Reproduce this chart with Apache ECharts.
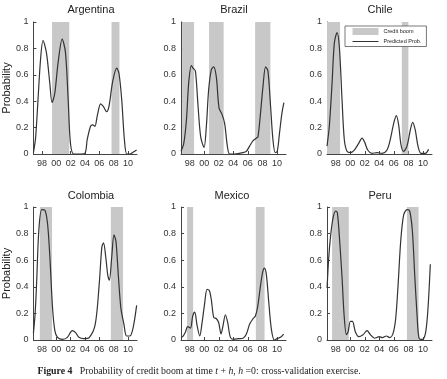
<!DOCTYPE html>
<html>
<head>
<meta charset="utf-8">
<script src="https://cdn.jsdelivr.net/npm/echarts@6/dist/echarts.min.js"></script>
<style>
html,body{margin:0;padding:0;background:#fff;}
#c{width:447px;height:379px;}
</style>
</head>
<body>
<div id="c"></div>
<script>
// ---- data ----
const countries = ['Argentina', 'Brazil', 'Chile', 'Colombia', 'Mexico', 'Peru'];
const tickYears = [1998, 2000, 2002, 2004, 2006, 2008, 2010];
const yTicks = [0, 0.2, 0.4, 0.6, 0.8, 1];

const argentina = [[1996.8,0.01],[1997.1,0.12],[1997.44,0.41],[1997.8,0.72],[1998.14,0.86],[1998.61,0.77],[1999.08,0.54],[1999.4,0.39],[1999.78,0.46],[2000.24,0.69],[2000.81,0.87],[2001.27,0.77],[2001.65,0.41],[2001.97,0.08],[2002.44,0],[2003.2,0],[2003.98,0.005],[2004.31,0.11],[2004.77,0.21],[2005.05,0.22],[2005.38,0.21],[2005.71,0.29],[2006.18,0.38],[2006.55,0.36],[2007.02,0.32],[2007.34,0.36],[2007.86,0.55],[2008.42,0.65],[2008.74,0.61],[2009.12,0.41],[2009.49,0.11],[2009.82,0],[2010.28,0],[2010.75,0.015],[2011.2,0.03]];
const brazil = [[1996.8,0.02],[1997.18,0.08],[1997.55,0.26],[1997.86,0.54],[1998.23,0.67],[1998.46,0.65],[1998.78,0.63],[1999.15,0.36],[1999.51,0.13],[1999.97,0.05],[2000.29,0.21],[2000.61,0.49],[2000.98,0.64],[2001.3,0.66],[2001.67,0.58],[2002.03,0.35],[2002.45,0.30],[2002.81,0.23],[2003.18,0.06],[2003.49,0],[2004.18,0],[2005.33,0.01],[2005.79,0.02],[2006.24,0.06],[2006.7,0.10],[2007.16,0.12],[2007.39,0.13],[2007.71,0.29],[2008.08,0.51],[2008.44,0.66],[2008.76,0.63],[2009.13,0.36],[2009.45,0.11],[2009.77,0.01],[2010.05,0.02],[2010.36,0.16],[2010.69,0.31],[2010.96,0.39]];
const chile = [[1996.8,0.06],[1997.12,0.21],[1997.49,0.53],[1997.81,0.84],[1998.18,0.92],[1998.5,0.81],[1998.87,0.41],[1999.18,0.11],[1999.55,0.02],[2000.01,0.01],[2000.56,0.03],[2001.16,0.08],[2001.62,0.12],[2001.98,0.09],[2002.4,0.03],[2002.99,0.005],[2003.68,0.01],[2004.37,0.005],[2005.06,0.03],[2005.51,0.11],[2005.97,0.23],[2006.34,0.29],[2006.66,0.22],[2006.98,0.07],[2007.34,0.02],[2007.81,0.06],[2008.26,0.18],[2008.59,0.24],[2008.95,0.18],[2009.32,0.06],[2009.73,0.005],[2010.33,0.005],[2010.79,0.035]];
const colombia = [[1996.8,0.05],[1997.04,0.2],[1997.27,0.46],[1997.55,0.82],[1997.96,0.98],[1998.41,0.975],[1998.78,0.87],[1999.1,0.62],[1999.47,0.24],[1999.79,0.07],[2000.16,0.02],[2000.85,0.005],[2001.54,0.02],[2002.22,0.07],[2002.68,0.055],[2003.14,0.02],[2003.83,0.01],[2004.61,0.02],[2005.43,0.12],[2005.98,0.42],[2006.35,0.70],[2006.58,0.73],[2006.9,0.62],[2007.17,0.49],[2007.4,0.45],[2007.72,0.62],[2008.04,0.79],[2008.32,0.74],[2008.64,0.49],[2009.0,0.24],[2009.42,0.12],[2009.79,0.03],[2010.24,0.03],[2010.7,0.09],[2011.2,0.26]];
const mexico = [[1996.8,0.02],[1997.04,0.025],[1997.41,0.06],[1997.72,0.10],[1998.1,0.09],[1998.41,0.18],[1998.69,0.21],[1999.01,0.11],[1999.38,0.03],[1999.7,0.13],[2000.02,0.26],[2000.39,0.38],[2000.71,0.37],[2000.98,0.30],[2001.3,0.17],[2001.67,0.16],[2001.99,0.13],[2002.31,0.045],[2002.59,0.11],[2002.91,0.19],[2003.23,0.13],[2003.6,0.02],[2004.05,0.005],[2004.74,0.01],[2005.34,0.013],[2005.8,0.045],[2006.25,0.12],[2006.72,0.16],[2007.04,0.18],[2007.35,0.25],[2007.72,0.40],[2008.04,0.51],[2008.28,0.54],[2008.55,0.49],[2008.87,0.29],[2009.24,0.08],[2009.65,0],[2010.02,0.01],[2010.48,0.02],[2010.93,0.045]];
const peru = [[1996.81,0.39],[1997.04,0.62],[1997.31,0.79],[1997.64,0.92],[1998.0,0.97],[1998.23,0.955],[1998.55,0.74],[1998.88,0.46],[1999.15,0.19],[1999.47,0.04],[1999.7,0.06],[2000.02,0.14],[2000.3,0.14],[2000.71,0.06],[2001.17,0.025],[2001.76,0.04],[2002.31,0.07],[2002.77,0.04],[2003.37,0.013],[2003.97,0.025],[2004.42,0.018],[2004.97,0.03],[2005.43,0.018],[2005.89,0.05],[2006.25,0.16],[2006.58,0.41],[2006.94,0.74],[2007.35,0.94],[2007.82,0.98],[2008.18,0.97],[2008.55,0.82],[2008.87,0.49],[2009.19,0.19],[2009.47,0.013],[2009.93,0.005],[2010.38,0.06],[2010.7,0.24],[2011.02,0.57]];

const argentinaBoom = [[1999.4, 2001.8], [2007.7, 2008.8]];
const brazilBoom = [[1996.95, 1998.6], [2000.66, 2002.67], [2007.0, 2009.1]];
const chileBoom = [[1996.8, 1998.6], [2007.1, 2008.0]];
const colombiaBoom = [[1997.7, 1999.4], [2007.6, 2009.3]];
const mexicoBoom = [[1997.64, 1998.47], [2007.1, 2008.3]];
const peruBoom = [[1997.5, 1999.8], [2007.8, 2009.4]];

const probSeries = [argentina, brazil, chile, colombia, mexico, peru];
const boomSeries = [argentinaBoom, brazilBoom, chileBoom, colombiaBoom, mexicoBoom, peruBoom];

// ---- layout ----
const colLeft = [32, 181, 327];
const rowTop = [22, 207];
const rowH = [132, 133];
const plotW = 105;
const titlePos = [[91, 10], [234, 10], [380, 10], [91, 196], [232, 196], [380, 196]];
const XMIN = 1996.8, XMAX = 2011.25;
const sans = '"Liberation Sans", Arial, Helvetica, sans-serif';
const axisColor = '#444';
const boomColor = '#c8c8c8';

const grid = [], xAxis = [], yAxis = [], series = [], graphic = [];
countries.forEach((name, i) => {
  const col = i % 3, row = Math.floor(i / 3);
  grid.push({ left: colLeft[col], top: rowTop[row], width: plotW, height: rowH[row], containLabel: false });
  xAxis.push({
    type: 'value', gridIndex: i, min: XMIN, max: XMAX,
    axisLine: { show: true, lineStyle: { color: axisColor, width: 1 } },
    axisTick: { show: true, inside: true, length: 3, customValues: tickYears, lineStyle: { color: axisColor } },
    axisLabel: { customValues: tickYears, formatter: v => String(Math.round(v) % 100).padStart(2, '0'),
                 fontSize: 9, color: '#333', margin: 5, fontFamily: sans },
    splitLine: { show: false }
  });
  yAxis.push({
    type: 'value', gridIndex: i, min: 0, max: 1, interval: 0.2,
    name: col === 0 ? 'Probability' : '', nameLocation: 'middle', nameGap: 17,
    nameTextStyle: { fontSize: 11, color: '#222', fontFamily: sans },
    axisLine: { show: true, lineStyle: { color: axisColor, width: 1 } },
    axisTick: { show: true, inside: true, length: 3, lineStyle: { color: axisColor } },
    axisLabel: { fontSize: 9, color: '#333', margin: 5, fontFamily: sans,
                 formatter: v => (Math.abs(v) < 1e-9 ? '0' : Math.abs(v - 1) < 1e-9 ? '1' : v.toFixed(1)) },
    splitLine: { show: false }
  });
  series.push({
    name: 'Credit boom', type: 'line', xAxisIndex: i, yAxisIndex: i, data: [],
    symbol: 'none', z: 1,
    itemStyle: { color: boomColor }, lineStyle: { color: boomColor },
    markArea: { silent: true, itemStyle: { color: boomColor, opacity: 1 },
      data: boomSeries[i].map(b => [{ xAxis: b[0] }, { xAxis: b[1] }]) }
  });
  series.push({
    name: 'Predicted Prob.', type: 'line', xAxisIndex: i, yAxisIndex: i, data: probSeries[i],
    symbol: 'none', smooth: 0.3, z: 3, silent: true,
    itemStyle: { color: '#333' }, lineStyle: { color: '#333', width: 1.2 }
  });
  graphic.push({ type: 'text', x: titlePos[i][0], y: titlePos[i][1],
    style: { text: name, fontSize: 11, fontFamily: sans, fill: '#222', align: 'center', verticalAlign: 'middle' } });
});

graphic.push({
  type: 'text', x: 37.5, y: 371,
  style: {
    text: '{b|Figure 4}   Probability of credit boom at time {i|t} + {i|h}, {i|h} =0: cross-validation exercise.',
    fontSize: 9.8, fontFamily: '"Liberation Serif", "Times New Roman", serif', fill: '#222',
    verticalAlign: 'middle',
    rich: {
      b: { fontWeight: 'bold', fontSize: 9.8, fontFamily: '"Liberation Serif", serif', fill: '#222' },
      i: { fontStyle: 'italic', fontSize: 9.8, fontFamily: '"Liberation Serif", serif', fill: '#222' }
    }
  }
});

const chart = echarts.init(document.getElementById('c'), null, { renderer: 'canvas' });
chart.setOption({
  animation: false,
  backgroundColor: '#fff',
  grid, xAxis, yAxis, series, graphic,
  legend: {
    left: 345, top: 26, orient: 'vertical', selectedMode: false,
    itemWidth: 26, itemHeight: 7, itemGap: 3.5,
    padding: [2, 5, 2, 7],
    backgroundColor: '#fff', borderColor: '#555', borderWidth: 0.8,
    textStyle: { fontSize: 5.5, color: '#222', fontFamily: sans },
    data: [
      { name: 'Credit boom', icon: 'rect', itemStyle: { color: boomColor } },
      { name: 'Predicted Prob.', itemStyle: { color: 'rgba(0,0,0,0)', borderWidth: 0, opacity: 0 },
        lineStyle: { color: '#333', width: 1 } }
    ]
  }
});
</script>
</body>
</html>
